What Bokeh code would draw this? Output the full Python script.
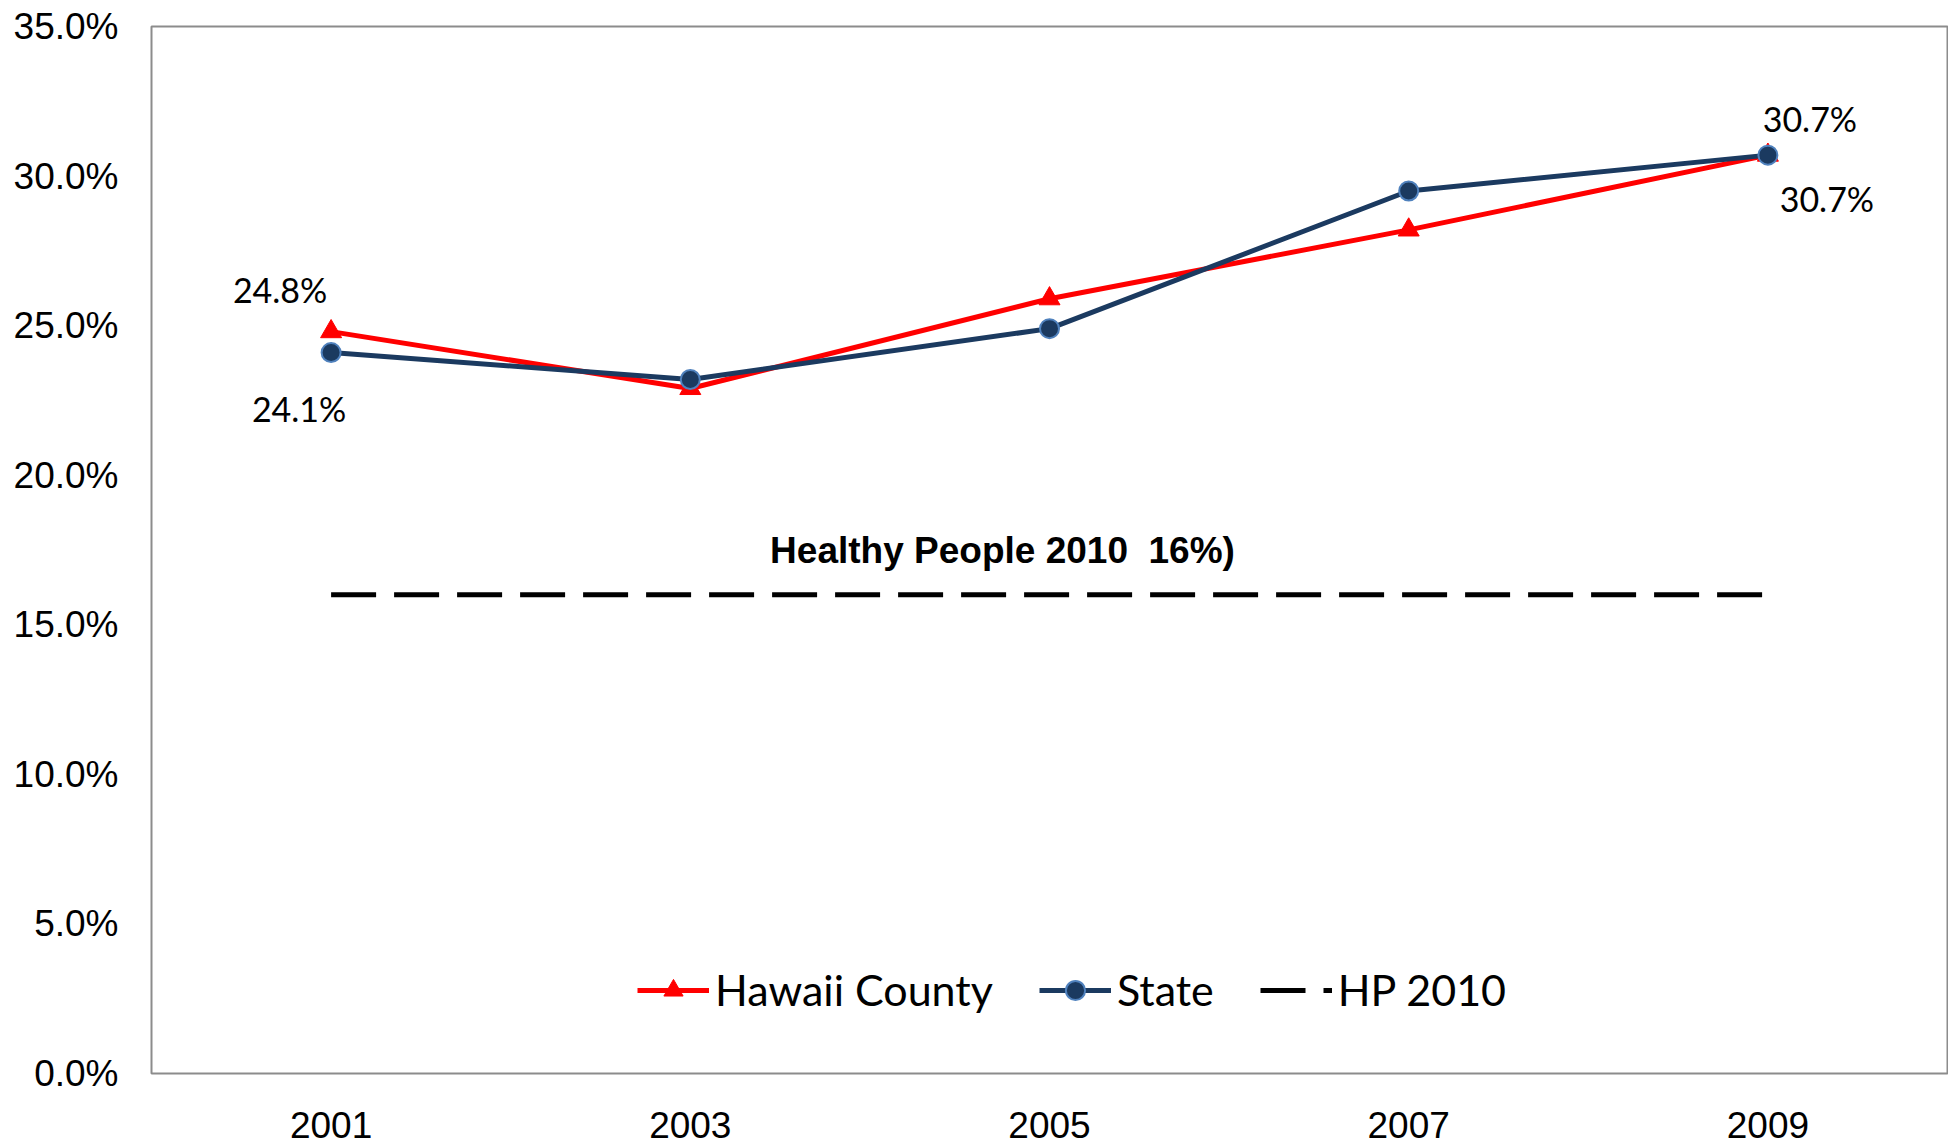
from bokeh.plotting import figure
from bokeh.models import FactorRange, Range1d, FixedTicker, PrintfTickFormatter, Legend, LegendItem, ColumnDataSource
from bokeh.core.properties import value
from bokeh.embed import file_html
from bokeh.resources import INLINE

years = ["2001", "2003", "2005", "2007", "2009"]
hawaii = [24.8, 22.9, 25.9, 28.2, 30.7]
state = [24.1, 23.2, 24.9, 29.5, 30.7]
hp2010 = [16, 16, 16, 16, 16]
y_ticks = [0, 5, 10, 15, 20, 25, 30, 35]

label_years = ["2001", "2001", "2009", "2009"]
label_vals = [24.8, 24.1, 30.7, 30.7]
label_texts = ["24.8%", "24.1%", "30.7%", "30.7%"]
label_dx = [-51, -32, 42, 59]
label_dy = [-42, 56, -37, 43]

RED = "#FF0000"
NAVY = "#1B3A60"
EDGE = "#4F81BD"

p = figure(width=1948, height=1147, x_range=FactorRange(*years), y_range=Range1d(0, 35),
           output_backend="svg", toolbar_location=None,
           min_border_left=151, min_border_right=1, min_border_top=26, min_border_bottom=74)
p.xgrid.visible = False
p.ygrid.visible = False
p.outline_line_color = "#8C8C8C"
p.outline_line_width = 2
p.background_fill_color = "white"

for ax in (p.xaxis[0], p.yaxis[0]):
    ax.axis_line_color = None
    ax.major_tick_line_color = None
    ax.minor_tick_line_color = None
    ax.major_tick_out = 0
    ax.major_tick_in = 0
    ax.major_label_text_font = "Liberation Sans"
    ax.major_label_text_font_size = "37px"
    ax.major_label_text_color = "black"

p.yaxis.ticker = FixedTicker(ticks=y_ticks)
p.yaxis.formatter = PrintfTickFormatter(format="%.1f%%")
p.yaxis.major_label_standoff = 33
p.xaxis.major_label_standoff = 38

hp_line = p.line(years, hp2010, line_color="black", line_width=5, line_dash="45 18")

h_line = p.line(years, hawaii, line_color=RED, line_width=5)
h_pts = p.scatter(years, hawaii, marker="triangle", size=21, fill_color=RED, line_color=RED, line_width=1)

s_line = p.line(years, state, line_color=NAVY, line_width=5)
s_pts = p.scatter(years, state, marker="circle", size=19, fill_color=NAVY, line_color=EDGE, line_width=2)

src = ColumnDataSource(dict(x=label_years, y=label_vals, t=label_texts, dx=label_dx, dy=label_dy))
p.text(x="x", y="y", text="t", x_offset="dx", y_offset="dy", source=src,
       text_font=value("Lato"), text_font_size="34px", text_color="black",
       text_align="center", text_baseline="alphabetic")

p.text(x=["2005"], y=[16], text=["Healthy People 2010 \u00a016%)"], x_offset=-47, y_offset=-44,
       text_font=value("Liberation Sans"), text_font_style="bold", text_font_size="37px",
       text_color="black", text_align="center", text_baseline="alphabetic")

legend = Legend(items=[
    LegendItem(label="Hawaii County", renderers=[h_line, h_pts]),
    LegendItem(label="State", renderers=[s_line, s_pts]),
    LegendItem(label="HP 2010", renderers=[hp_line]),
], orientation="horizontal", location=(486, 58))
legend.label_text_font = "Lato"
legend.label_text_font_size = "43px"
legend.label_text_color = "black"
legend.glyph_width = 72
legend.glyph_height = 48
legend.label_standoff = 6
legend.spacing = 46
legend.padding = 0
legend.margin = 0
legend.border_line_color = None
legend.background_fill_alpha = 0
p.add_layout(legend, "center")

open("out.html", "w").write(file_html(p, INLINE))
